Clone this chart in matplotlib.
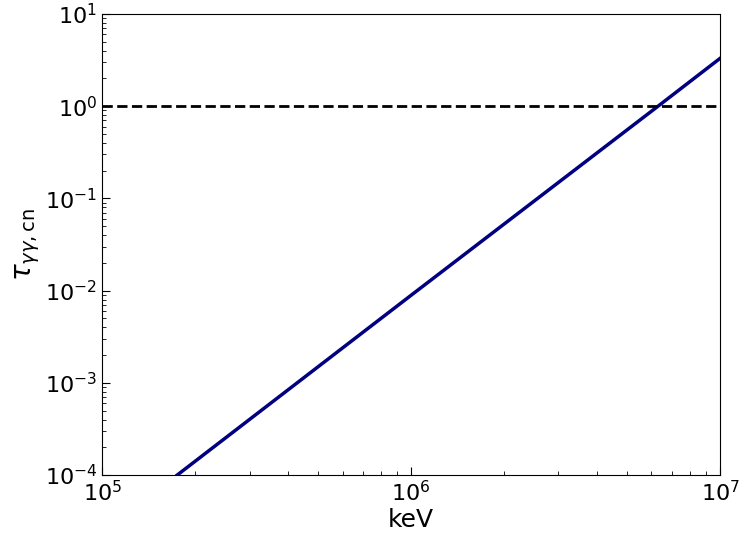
import numpy as np
import matplotlib
matplotlib.use('Agg')
import matplotlib.pyplot as plt

# --- Data ---
energy_kev = [1.75e5, 1.0e6, 6.3e6, 1.0e7]
tau_gg     = [1.0e-4, 8.9e-3, 1.0, 3.3]
tau_unity  = 1.0

fig = plt.figure(figsize=(7.4, 5.38), dpi=100)
ax = fig.add_axes([0.138, 0.117, 0.835, 0.857])

ax.plot(energy_kev, tau_gg, color='navy', linewidth=2.5)
ax.axhline(tau_unity, color='black', linestyle='--', linewidth=2)

ax.set_xscale('log')
ax.set_yscale('log')
ax.set_xlim(1e5, 1e7)
ax.set_ylim(1e-4, 1e1)

ax.set_xlabel('keV', fontsize=18, labelpad=2)
ax.set_ylabel(r'$\tau_{\gamma\gamma,\mathrm{cn}}$', fontsize=20, labelpad=2)
ax.tick_params(which='both', direction='in', labelsize=16)
ax.tick_params(which='major', length=6)
ax.tick_params(which='minor', length=3)

fig.savefig('out.png', dpi=100)
